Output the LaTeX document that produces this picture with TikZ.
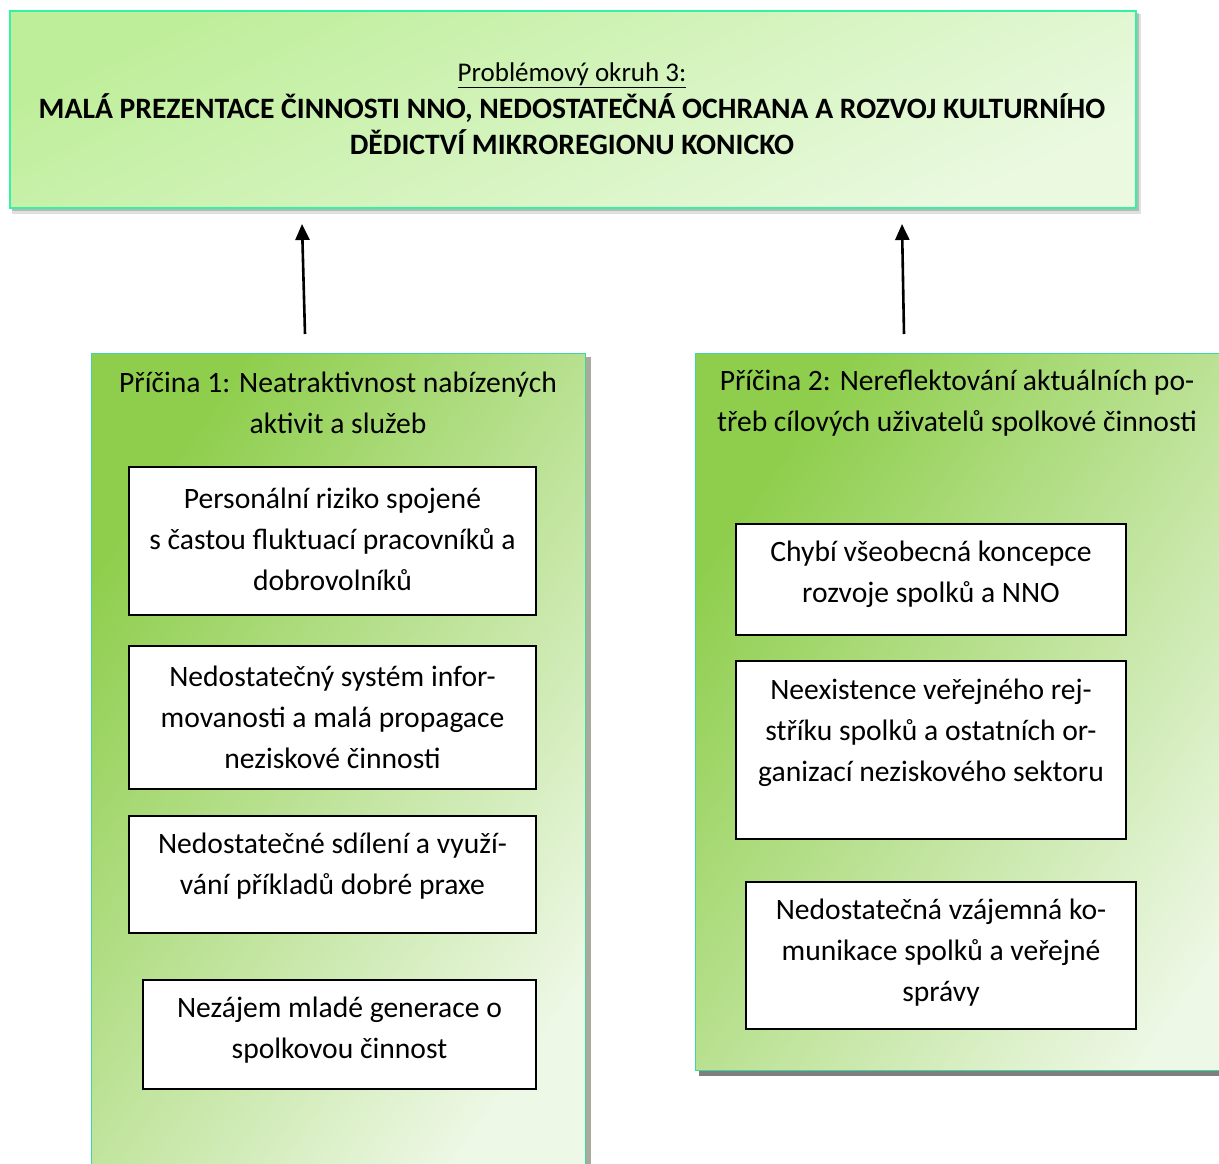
\documentclass[tikz,border=0pt]{standalone}
\usepackage{fontspec}
\setmainfont{Carlito}
\usetikzlibrary{arrows.meta}
\definecolor{topA}{HTML}{BEEE9A}
\definecolor{topB}{HTML}{EAF9E0}
\definecolor{topBorder}{HTML}{33F2A2}
\definecolor{panA}{HTML}{8ECE4C}
\definecolor{panB}{HTML}{EEF8E6}
\definecolor{panBorder}{HTML}{3FD6A6}
\definecolor{shadowA}{HTML}{A9AA9E}
\definecolor{shadowB}{HTML}{7F7F7F}
\begin{document}
\begin{tikzpicture}[x=1pt,y=-1pt,
  every node/.style={inner sep=0pt, outer sep=0pt},
  txt/.style={align=center, font=\fontsize{29.6}{41}\selectfont},
  toptxt/.style={align=center, font=\fontsize{29.6}{36.5}\selectfont},
  topbox/.style={draw=topBorder, line width=2pt, top color=topA, bottom color=topB, shading angle=25},
  panel/.style={draw=panBorder, line width=1pt, top color=panA, bottom color=panB, shading angle=55},
  wbox/.style={draw=black, line width=2pt, fill=white},
  arr/.style={line width=2.6pt, -{Triangle[width=14pt,length=16pt]}}
]
\useasboundingbox (0,0) rectangle (1219,1163);
\clip (0,0) rectangle (1219,1163);

% top box
\fill[black, opacity=.12] (12,14) rectangle (1141,214);
\fill[black, opacity=.18] (12,13) rectangle (1139,211);
\node[topbox, minimum width=1126, minimum height=197, anchor=north west] (top) at (10,11) {};
\node[toptxt] (toptitle) at (572,109) {{\fontsize{27}{36.5}\selectfont\underline{Problémový okruh 3:}}\\
  \textbf{MALÁ PREZENTACE ČINNOSTI NNO, NEDOSTATEČNÁ OCHRANA A ROZVOJ KULTURNÍHO}\\
  \textbf{DĚDICTVÍ MIKROREGIONU KONICKO}};

% arrows
\coordinate (a1s) at (305,334);
\coordinate (a1e) at (302,224);
\coordinate (a2s) at (904,334);
\coordinate (a2e) at (902,224);
\draw[arr] (a1s) -- (a1e);
\draw[arr] (a2s) -- (a2e);

% left panel
\fill[shadowA] (585,357) rectangle (591,1200);
\node[panel, minimum width=494, minimum height=850, anchor=north west] (p1) at (91,353) {};
\node[txt] (p1t) at (338,403) {Příčina 1: Neatraktivnost nabízených\\aktivit a služeb};

\node[wbox, minimum width=407, minimum height=148, anchor=north west] (b1) at (129,467) {};
\node[txt] (b1t) at (332.5,539) {Personální riziko spojené\\s častou fluktuací pracovníků a\\dobrovolníků};
\node[wbox, minimum width=407, minimum height=143, anchor=north west] (b2) at (129,646) {};
\node[txt] (b2t) at (332.5,717) {Nedostatečný systém infor-\\movanosti a malá propagace\\neziskové činnosti};
\node[wbox, minimum width=407, minimum height=117, anchor=north west] (b3) at (129,816) {};
\node[txt] (b3t) at (332.5,866) {Nedostatečné sdílení a využí-\\vání příkladů dobré praxe};
\node[wbox, minimum width=393, minimum height=109, anchor=north west] (b4) at (143,980) {};
\node[txt] (b4t) at (339.5,1030) {Nezájem mladé generace o\\spolkovou činnost};

% right panel
\fill[shadowB] (699,1070) rectangle (1300,1076);
\node[panel, minimum width=600, minimum height=717, anchor=north west] (p2) at (695,353) {};
\node[txt] (p2t) at (957,403) {Příčina 2: Nereflektování aktuálních po-\\třeb cílových uživatelů spolkové činnosti};

\node[wbox, minimum width=390, minimum height=111, anchor=north west] (c1) at (736,524) {};
\node[txt] (c1t) at (931,574) {Chybí všeobecná koncepce\\rozvoje spolků a NNO};
\node[wbox, minimum width=390, minimum height=178, anchor=north west] (c2) at (736,661) {};
\node[txt] (c2t) at (931,733) {Neexistence veřejného rej-\\stříku spolků a ostatních or-\\ganizací neziskového sektoru};
\node[wbox, minimum width=390, minimum height=147, anchor=north west] (c3) at (746,882) {};
\node[txt] (c3t) at (941,953) {Nedostatečná vzájemná ko-\\munikace spolků a veřejné\\správy};
\end{tikzpicture}
\end{document}
